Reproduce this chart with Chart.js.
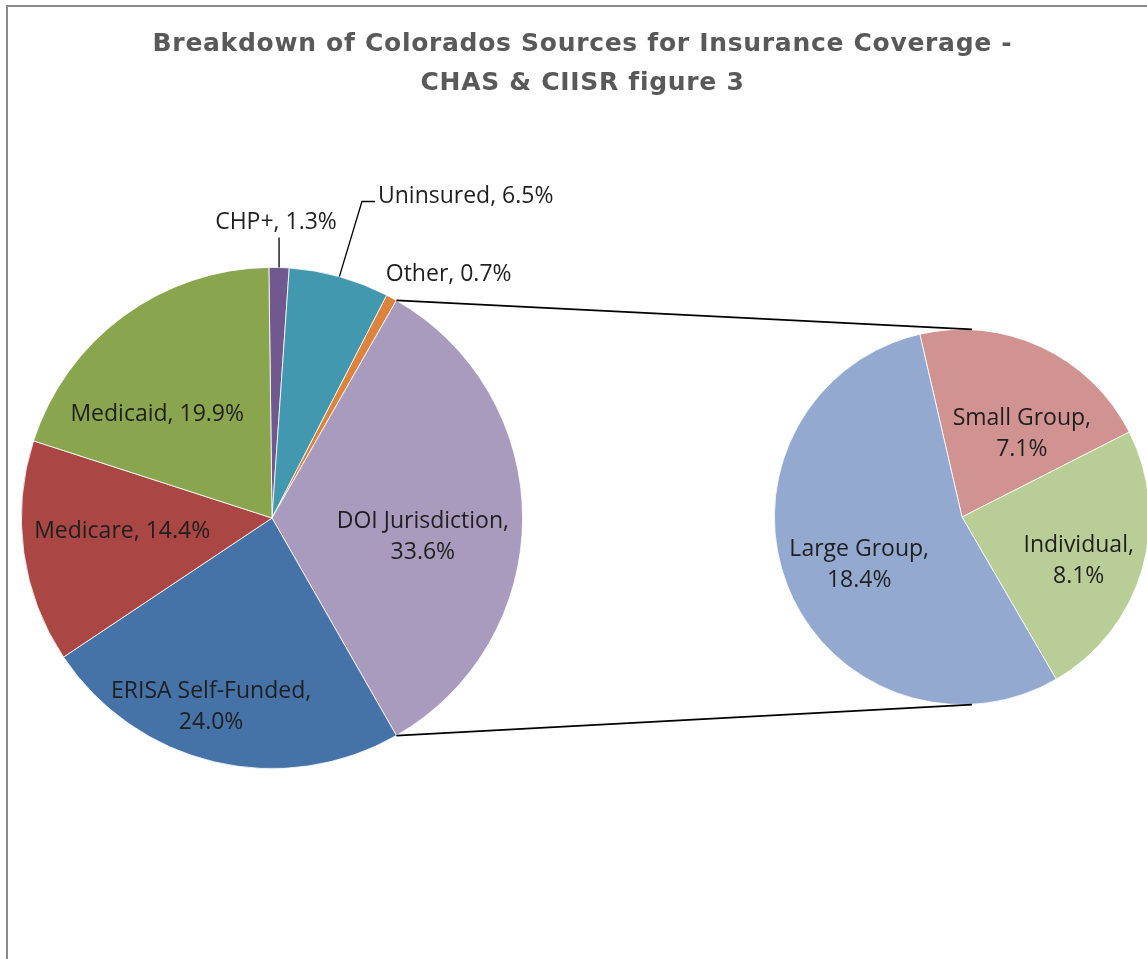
<!DOCTYPE html>
<html>
<head>
<meta charset="utf-8">
<title>Breakdown of Colorados Sources for Insurance Coverage</title>
<script src="https://cdn.jsdelivr.net/npm/chart.js@4/dist/chart.umd.min.js"></script>
<style>
  html, body { margin: 0; padding: 0; background: #fff; overflow: hidden; }
  .c-frame { position: relative; width: 1147px; height: 959px; overflow: hidden; }
  .c-frame__border {
    position: absolute; left: 6px; top: 5px; right: -10px; bottom: -10px;
    border-left: 2px solid #8a8a8a; border-top: 2px solid #8a8a8a;
  }
  .c-title {
    position: absolute; left: 0; top: 23px; width: 1165px;
    text-align: center; color: #595959; letter-spacing: 0.7px;
    font: bold 25px "DejaVu Sans", sans-serif; line-height: 39px;
  }
  canvas { position: absolute; left: 0; top: 0; }
</style>
</head>
<body>
<div class="c-frame">
  <div class="c-frame__border"></div>
  <canvas id="mainChart" width="1147" height="959"></canvas>
  <canvas id="subChart" width="1170" height="959"></canvas>
  <div class="c-title">Breakdown of Colorados Sources for Insurance Coverage -<br>CHAS &amp; CIISR figure 3</div>
</div>
<script>
// Main pie, clockwise from the top
const mainLabels = ["CHP+", "Uninsured", "Other", "DOI Jurisdiction", "ERISA Self-Funded", "Medicare", "Medicaid"];
const mainValues = [1.3, 6.5, 0.7, 33.6, 24.0, 14.4, 19.9];
const mainColors = ["#71588f", "#4198af", "#db843d", "#a99bbd", "#4572a7", "#aa4643", "#89a54e"];

// DOI Jurisdiction gets split out into the second pie
const splitIndex = 3;
const subLabels = ["Small Group", "Individual", "Large Group"];
const subValues = [7.1, 8.1, 18.4];
const subColors = ["#d19392", "#b9cd96", "#93a9cf"];

const sum = (arr) => arr.reduce((a, b) => a + b, 0);

// Draws "Name, 12.3%" labels, spots are offsets in units of the radius
const sliceLabels = {
  id: "sliceLabels",
  afterDatasetsDraw(chart, args, opts) {
    const ctx = chart.ctx;
    const meta = chart.getDatasetMeta(0);
    const labels = chart.data.labels;
    const values = chart.data.datasets[0].data;
    ctx.save();
    ctx.font = opts.font;
    ctx.fillStyle = opts.color;
    ctx.textAlign = "center";
    ctx.textBaseline = "middle";
    meta.data.forEach((arc, i) => {
      const r = arc.outerRadius;
      const x = arc.x + opts.spots[i][0] * r;
      const y = arc.y + opts.spots[i][1] * r;
      const pct = values[i].toFixed(1) + "%";
      let text = labels[i] + ", " + pct;
      if (opts.twoLine[i]) {
        ctx.fillText(labels[i] + ",", x, y - opts.lineGap / 2);
        ctx.fillText(pct, x, y + opts.lineGap / 2);
      } else {
        ctx.fillText(text, x, y);
      }

      // leader lines for the thin slices
      const lead = opts.leaders ? opts.leaders[i] : null;
      if (!lead) return;
      const mid = (arc.startAngle + arc.endAngle) / 2;
      const ex = arc.x + Math.cos(mid) * r;
      const ey = arc.y + Math.sin(mid) * r;
      ctx.strokeStyle = "#000";
      ctx.lineWidth = 1.3;
      ctx.beginPath();
      ctx.moveTo(ex, ey);
      if (lead === "up") {
        ctx.lineTo(ex, y + 15);
      } else if (lead === "elbow") {
        const left = x - ctx.measureText(text).width / 2;
        ctx.lineTo(left - 16, y + 5);
        ctx.lineTo(left - 3, y + 5);
      }
      ctx.stroke();
    });
    ctx.restore();
  }
};

// Lines from the split slice to the top and bottom of the second pie
const pieConnectors = {
  id: "pieConnectors",
  afterDraw(chart) {
    const main = Chart.getChart("mainChart");
    if (!main) return;
    const arc = main.getDatasetMeta(0).data[splitIndex];
    const sub = chart.getDatasetMeta(0).data[0];
    const r = arc.outerRadius;
    const ctx = chart.ctx;
    const sx = sub.x + 10;
    ctx.save();
    ctx.strokeStyle = "#000";
    ctx.lineWidth = 1.8;
    ctx.beginPath();
    ctx.moveTo(arc.x + Math.cos(arc.startAngle) * r, arc.y + Math.sin(arc.startAngle) * r);
    ctx.lineTo(sx, sub.y - sub.outerRadius);
    ctx.moveTo(arc.x + Math.cos(arc.endAngle) * r, arc.y + Math.sin(arc.endAngle) * r);
    ctx.lineTo(sx, sub.y + sub.outerRadius);
    ctx.stroke();
    ctx.restore();
  }
};

const baseOptions = (padding, rotation, labelOpts) => ({
  responsive: false,
  animation: false,
  rotation: rotation,
  layout: { padding: padding },
  plugins: {
    legend: { display: false },
    tooltip: { enabled: false },
    sliceLabels: labelOpts
  }
});

// Center the split slice on the right hand side
const mainRotation = 90 - ((sum(mainValues.slice(0, splitIndex)) + mainValues[splitIndex] / 2) / sum(mainValues)) * 360;

const mainChart = new Chart(document.getElementById("mainChart"), {
  type: "pie",
  data: {
    labels: mainLabels,
    datasets: [{ data: mainValues, backgroundColor: mainColors, borderColor: "#ffffff", borderWidth: 0.8 }]
  },
  options: baseOptions({ left: 21, right: 624, top: 267, bottom: 190 }, mainRotation, {
    font: '23px "Open Sans", sans-serif',
    color: "#1f1f1f",
    lineGap: 31,
    spots: [[0.016, -1.179], [0.773, -1.283], [0.705, -0.972], [0.602, 0.076], [-0.243, 0.753], [-0.598, 0.052], [-0.458, -0.414]],
    twoLine: [false, false, false, true, true, false, false],
    leaders: ["up", "elbow", null, null, null, null, null]
  }),
  plugins: [sliceLabels]
});

const subChart = new Chart(document.getElementById("subChart"), {
  type: "pie",
  data: {
    labels: subLabels,
    datasets: [{ data: subValues, backgroundColor: subColors, borderColor: "#ffffff", borderWidth: 0.8 }]
  },
  options: baseOptions({ left: 774, right: 20, top: 329, bottom: 254 }, -13, {
    font: '23px "Open Sans", sans-serif',
    color: "#1f1f1f",
    lineGap: 31,
    spots: [[0.319, -0.444], [0.622, 0.234], [-0.548, 0.255]],
    twoLine: [true, true, true]
  }),
  plugins: [sliceLabels, pieConnectors]
});
</script>
</body>
</html>
